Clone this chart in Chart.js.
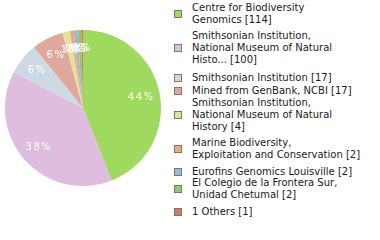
<!DOCTYPE html>
<html>
<head>
<meta charset="utf-8">
<script src="https://cdn.jsdelivr.net/npm/chart.js@4"></script>
<style>
  body { margin: 0; background: #fff; width: 380px; height: 240px; overflow: hidden; position: relative; }
  #wrap { position: absolute; left: 0; top: 0; width: 166px; height: 240px; }
  #legend { position: absolute; left: 174px; top: 0; width: 206px; font-family: 'DejaVu Sans', sans-serif; font-size: 10px; color: #1a1a1a; }
  .item { position: absolute; left: 0; }
  .box { position: absolute; left: 0; width: 6px; height: 6px; border: 1px solid #777; }
  .txt { position: absolute; left: 18px; line-height: 12px; white-space: nowrap; }
</style>
</head>
<body>
<div id="wrap"><canvas id="pie"></canvas></div>
<div id="legend"></div>
<script>
const labels = [
  'Centre for Biodiversity\nGenomics',
  'Smithsonian Institution,\nNational Museum of Natural\nHisto...',
  'Smithsonian Institution',
  'Mined from GenBank, NCBI',
  'Smithsonian Institution,\nNational Museum of Natural\nHistory',
  'Marine Biodiversity,\nExploitation and Conservation',
  'Eurofins Genomics Louisville',
  'El Colegio de la Frontera Sur,\nUnidad Chetumal',
  '1 Others'
];
const counts = [114, 100, 17, 17, 4, 2, 2, 2, 1];
const colors = ['#a0d95f', '#dfbddf', '#cdd9e5', '#e0a89c', '#e0e3a0', '#f0aa6e', '#98b8e0', '#9ac274', '#dc7860'];
// legend row centres (y of the box centre)
const legendY = [14, 48, 78, 91, 115, 149, 172, 189, 212];

const total = counts.reduce((a, b) => a + b, 0);

const pctLabels = {
  id: 'pctLabels',
  afterDatasetsDraw(chart) {
    const { ctx } = chart;
    const meta = chart.getDatasetMeta(0);
    ctx.save();
    ctx.fillStyle = '#fff';
    ctx.font = "10px 'DejaVu Sans', sans-serif";
    ctx.letterSpacing = '1.5px';
    ctx.textAlign = 'center';
    ctx.textBaseline = 'middle';
    meta.data.forEach((arc, i) => {
      const mid = (arc.startAngle + arc.endAngle) / 2;
      const r = arc.outerRadius * 0.76;
      const x = arc.x + Math.cos(mid) * r;
      const y = arc.y + Math.sin(mid) * r;
      ctx.fillText(Math.floor(counts[i] * 100 / total) + '%', x, y);
    });
    ctx.restore();
  }
};

new Chart(document.getElementById('pie'), {
  type: 'pie',
  data: {
    labels: labels,
    datasets: [{ data: counts, backgroundColor: colors, borderWidth: 0 }]
  },
  options: {
    responsive: true,
    maintainAspectRatio: false,
    animation: false,
    layout: { padding: { top: 30, bottom: 54, left: 5, right: 5 } },
    plugins: { legend: { display: false }, tooltip: { enabled: false } }
  },
  plugins: [pctLabels]
});

const legend = document.getElementById('legend');
labels.forEach((lab, i) => {
  const lines = (lab + ' [' + counts[i] + ']').split('\n');
  const item = document.createElement('div');
  item.className = 'item';
  const box = document.createElement('div');
  box.className = 'box';
  box.style.background = colors[i];
  box.style.top = (legendY[i] - 4) + 'px';
  const txt = document.createElement('div');
  txt.className = 'txt';
  txt.style.top = (legendY[i] - lines.length * 6) + 'px';
  txt.innerHTML = lines.join('<br>');
  item.appendChild(box);
  item.appendChild(txt);
  legend.appendChild(item);
});
</script>
</body>
</html>
